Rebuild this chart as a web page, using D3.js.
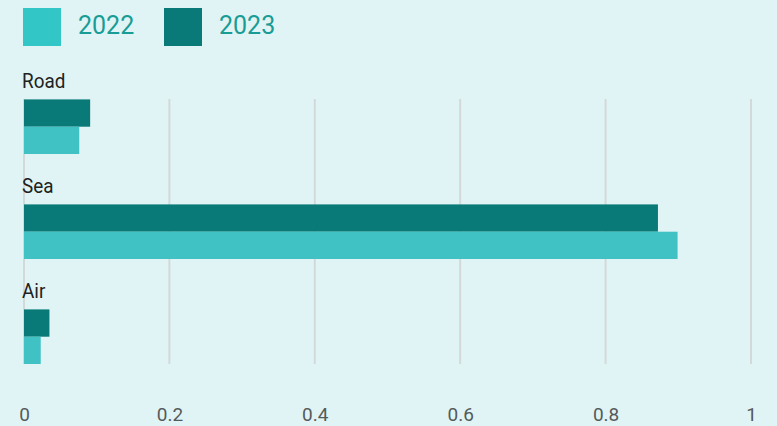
<!DOCTYPE html>
<html><head><meta charset="utf-8">
<script src="https://cdn.jsdelivr.net/npm/d3@7"></script>
<style>
html,body{margin:0;padding:0;background:#E0F4F5;}
svg{display:block;font-family:Roboto, "Noto Sans", sans-serif;}
</style></head>
<body>
<svg id="chart" width="777" height="426"></svg>
<script>
const categories = ["Road", "Sea", "Air"];
const seriesNames = ["2023", "2022"];
const values2022 = [0.076, 0.899, 0.023];
const values2023 = [0.091, 0.872, 0.035];
const xTicks = [0, 0.2, 0.4, 0.6, 0.8, 1];
const colors = {"2022": "#40C2C4", "2023": "#097A78"};
const legendColors = {"2022": "#33C6C6", "2023": "#097A78"};
const legendOrder = ["2022", "2023"];

const svg = d3.select("#chart");
svg.append("rect").attr("width", 777).attr("height", 426).attr("fill", "#E0F4F5");

const x = d3.scaleLinear().domain([0, 1]).range([24, 751]);
const yBand = d3.scaleBand().domain(categories).range([49, 364]).padding(0);
const bw = yBand.bandwidth();
const barsTop = bw * 0.48;
const ySub = d3.scaleBand().domain(seriesNames).range([barsTop, bw]).padding(0);

// gridlines
svg.append("g").selectAll("line").data(xTicks).join("line")
  .attr("x1", d => x(d)).attr("x2", d => x(d))
  .attr("y1", 99).attr("y2", 364)
  .attr("stroke", "#D3D9D9").attr("stroke-width", 2);

// bars
const data = categories.map((c, i) => ({cat: c, "2022": values2022[i], "2023": values2023[i]}));
const groups = svg.append("g").selectAll("g").data(data).join("g")
  .attr("transform", d => `translate(0,${yBand(d.cat)})`);
groups.selectAll("rect").data(d => seriesNames.map(s => ({s, v: d[s]}))).join("rect")
  .attr("x", x(0)).attr("y", d => ySub(d.s))
  .attr("width", d => x(d.v) - x(0)).attr("height", ySub.bandwidth())
  .attr("fill", d => colors[d.s]);

// category labels
groups.append("text").attr("x", 22).attr("y", 39)
  .attr("font-size", 21).attr("fill", "#1E2222")
  .attr("transform", "scale(0.9,1)")
  .attr("transform-origin", "22 0")
  .text(d => d.cat);

// x axis
const axis = d3.axisBottom(x).tickValues(xTicks).tickSize(0).tickPadding(0)
  .tickFormat(d => String(d));
const ag = svg.append("g").attr("transform", "translate(0,404)").call(axis);
ag.select(".domain").remove();
ag.selectAll("text").attr("font-size", 19).attr("fill", "#555A5A")
  .attr("font-family", "Roboto, sans-serif").attr("dy", "0.9em");

// legend
const lg = svg.append("g").selectAll("g").data(legendOrder).join("g")
  .attr("transform", (d, i) => `translate(${23 + i * 141},8)`);
lg.append("rect").attr("width", 38).attr("height", 38).attr("fill", d => legendColors[d]);
lg.append("text").attr("x", 55).attr("y", 26).attr("font-size", 25)
  .attr("fill", "#1A9C96").text(d => d);
</script>
</body></html>
